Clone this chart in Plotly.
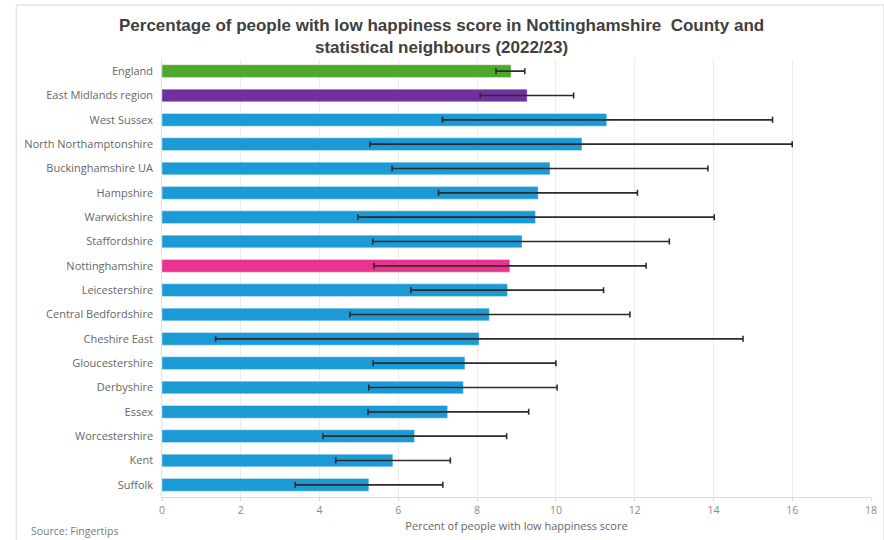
import plotly.graph_objects as go

areas = ["England", "East Midlands region", "West Sussex", "North Northamptonshire",
         "Buckinghamshire UA", "Hampshire", "Warwickshire", "Staffordshire",
         "Nottinghamshire", "Leicestershire", "Central Bedfordshire", "Cheshire East",
         "Gloucestershire", "Derbyshire", "Essex", "Worcestershire", "Kent", "Suffolk"]
values = [8.86, 9.27, 11.29, 10.66, 9.85, 9.55, 9.48, 9.14, 8.83, 8.77, 8.31, 8.05,
          7.69, 7.65, 7.25, 6.41, 5.86, 5.25]
lower_ci = [8.48, 8.08, 7.12, 5.28, 5.84, 7.02, 4.97, 5.35, 5.38, 6.32, 4.77, 1.36,
            5.36, 5.25, 5.23, 4.09, 4.41, 3.38]
upper_ci = [9.21, 10.45, 15.5, 16.0, 13.86, 12.07, 14.02, 12.88, 12.29, 11.21, 11.88, 14.75,
            10.0, 10.03, 9.31, 8.75, 7.32, 7.13]
title_text = ("<b>Percentage of people with low happiness score in Nottinghamshire  County and"
              "<br>statistical neighbours (2022/23)</b>")

colour_map = {"England": "#4EA72E", "East Midlands region": "#7030A0",
              "Nottinghamshire": "#E8338F"}
default_colour = "#1C9AD6"
colours = [colour_map.get(a, default_colour) for a in areas]

err_plus = [u - v for u, v in zip(upper_ci, values)]
err_minus = [v - l for v, l in zip(values, lower_ci)]

fig = go.Figure(go.Bar(
    y=areas, x=values, orientation="h",
    marker=dict(color=colours, line=dict(color="rgba(255,255,255,0.35)", width=1)),
    error_x=dict(type="data", symmetric=False, array=err_plus, arrayminus=err_minus,
                 color="#2b2b2b", thickness=1.6, width=3),
    width=0.52,
))

fig.update_layout(
    width=884, height=540,
    margin=dict(l=162, r=7, t=59, b=43),
    paper_bgcolor="white", plot_bgcolor="white",
    showlegend=False,
    font=dict(family="Open Sans, Liberation Sans, sans-serif", color="#666666"),
)
fig.update_xaxes(range=[0, 18], dtick=2, showgrid=True, gridcolor="#ececec", gridwidth=1,
                 zeroline=False, showline=True, linecolor="#d9d9d9",
                 ticks="outside", ticklen=3, tickcolor="#d9d9d9",
                 tickfont=dict(size=10.5, color="#8a8a8a"),
                 title=dict(text="Percent of people with low happiness score",
                            font=dict(size=11, color="#666666"), standoff=6))
fig.update_yaxes(autorange="reversed", showgrid=False, showline=True, linecolor="#f2d8d8",
                 tickfont=dict(size=11, color="#666666"), ticks="", ticksuffix="  ")

fig.add_annotation(text=title_text, xref="paper", yref="paper",
                   x=(444 - 162) / 715, y=(497 - 36) / 438, xanchor="center", yanchor="middle",
                   showarrow=False, align="center",
                   font=dict(family="Liberation Sans, Arial, sans-serif",
                             size=17, color="#404040"))
fig.add_annotation(text="Source: Fingertips", xref="paper", yref="paper",
                   x=(28 - 162) / 715, y=-(531 - 497) / 438, xanchor="left", yanchor="middle",
                   showarrow=False, font=dict(size=10.5, color="#7a7a7a"))
fig.add_shape(type="rect", xref="paper", yref="paper",
              x0=(15 - 162) / 715, x1=(890 - 162) / 715,
              y0=(497 - 560) / 438, y1=(497 - 5) / 438,
              line=dict(color="#d9d9d9", width=1), layer="below")

fig.write_html("out.html")
